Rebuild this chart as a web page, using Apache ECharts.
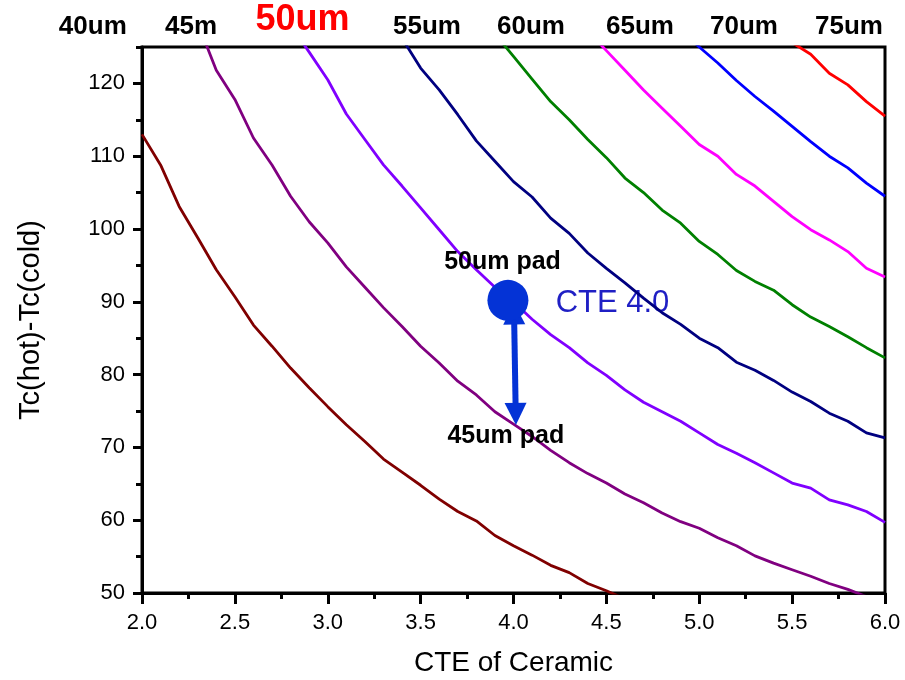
<!DOCTYPE html>
<html>
<head>
<meta charset="utf-8">
<script src="https://cdn.jsdelivr.net/npm/echarts@6/dist/echarts.min.js"></script>
<style>
html, body { margin: 0; padding: 0; background: #fff; }
#chart { width: 905px; height: 680px; }
</style>
</head>
<body>
<div id="chart"></div>
<script>
var FONT = '"Liberation Sans", Arial, sans-serif';

// CTE of ceramic (x), one value every 0.1
var cte = [2.0, 2.1, 2.2, 2.3, 2.4, 2.5, 2.6, 2.7, 2.8, 2.9,
           3.0, 3.1, 3.2, 3.3, 3.4, 3.5, 3.6, 3.7, 3.8, 3.9,
           4.0, 4.1, 4.2, 4.3, 4.4, 4.5, 4.6, 4.7, 4.8, 4.9,
           5.0, 5.1, 5.2, 5.3, 5.4, 5.5, 5.6, 5.7, 5.8, 5.9, 6.0];

// Tc(hot)-Tc(cold) per pad size, aligned with cte
var pad40 = [113.0, 108.8, 103.1, 98.8, 94.4, 90.7, 86.8, 83.9, 80.9, 78.2,
             75.6, 73.1, 70.8, 68.4, 66.6, 64.8, 62.9, 61.2, 59.9, 57.9,
             56.5, 55.2, 53.8, 52.8, 51.3, 50.3, 49.2, null, null, null,
             null, null, null, null, null, null, null, null, null, null, null];
var pad45 = [null, null, null, 128.3, 121.8, 117.8, 112.5, 108.8, 104.5, 101.0,
             98.1, 94.8, 92.0, 89.2, 86.6, 83.9, 81.6, 79.1, 77.2, 74.9,
             73.2, 71.5, 69.6, 67.9, 66.4, 65.1, 63.6, 62.4, 61.0, 59.8,
             58.9, 57.6, 56.5, 55.1, 54.1, 53.2, 52.3, 51.3, 50.5, 49.5, null];
var pad50 = [null, null, null, null, null, null, null, null, 128.0, 124.3,
             120.5, 115.8, 112.3, 108.8, 105.9, 102.9, 99.9, 96.9, 94.4, 92.0,
             90.0, 87.6, 85.5, 83.7, 81.6, 79.9, 77.9, 76.2, 74.9, 73.6,
             72.0, 70.4, 69.2, 67.9, 66.5, 65.1, 64.4, 62.8, 62.1, 61.2, 59.7];
var pad55 = [null, null, null, null, null, null, null, null, null, null,
             null, null, null, null, 126.2, 122.1, 119.1, 115.7, 112.1, 109.3,
             106.5, 104.4, 101.5, 99.4, 96.7, 94.6, 92.6, 90.5, 88.5, 86.9,
             85.0, 83.7, 81.7, 80.6, 79.2, 77.6, 76.3, 74.7, 73.6, 72.0, 71.3];
var pad60 = [null, null, null, null, null, null, null, null, null, null,
             null, null, null, null, null, null, null, null, null, 126.8,
             123.7, 120.6, 117.5, 115.0, 112.3, 109.8, 107.0, 105.0, 102.6, 100.8,
             98.3, 96.5, 94.3, 92.8, 91.6, 89.6, 87.9, 86.6, 85.2, 83.7, 82.3];
var pad65 = [null, null, null, null, null, null, null, null, null, null,
             null, null, null, null, null, null, null, null, null, null,
             null, null, null, null, 127.2, 124.5, 121.8, 119.1, 116.6, 114.1,
             111.6, 110.0, 107.5, 105.9, 103.8, 101.7, 99.9, 98.5, 96.9, 94.6, 93.4];
var pad70 = [null, null, null, null, null, null, null, null, null, null,
             null, null, null, null, null, null, null, null, null, null,
             null, null, null, null, null, null, null, null, null, 127.3,
             125.0, 122.8, 120.4, 118.2, 116.2, 114.1, 112.0, 110.0, 108.4, 106.3, 104.5];
var pad75 = [null, null, null, null, null, null, null, null, null, null,
             null, null, null, null, null, null, null, null, null, null,
             null, null, null, null, null, null, null, null, null, null,
             null, null, null, null, null, 125.6, 124.0, 121.4, 119.8, 117.5, 115.5];

var curves = [pad40, pad45, pad50, pad55, pad60, pad65, pad70, pad75];
var curveNames = ['40um', '45m', '50um', '55um', '60um', '65um', '70um', '75um'];
var curveColors = ['#800000', '#800080', '#8000ff', '#000080', '#008000', '#ff00ff', '#0000ff', '#ff0000'];

// y axis ticks
var yMajor = [50, 60, 70, 80, 90, 100, 110, 120];

// marker: 50um pad at CTE 4.0, arrow down to the 45um curve
var marker = [3.97, 90.2];
var arrowFrom = [4.003, 88.4];
var arrowTo = [4.012, 74.6];

var chart = echarts.init(document.getElementById('chart'));

var series = curves.map(function(ys, k) {
    var pts = [];
    cte.forEach(function(x, i) {
        if (ys[i] != null) pts.push([x, ys[i]]);
    });
    return {
        name: curveNames[k],
        type: 'line',
        data: pts,
        symbol: 'none',
        clip: true,
        z: 3,
        lineStyle: { color: curveColors[k], width: 2.8 },
        itemStyle: { color: curveColors[k] }
    };
});

series.push({
    type: 'lines',
    coordinateSystem: 'cartesian2d',
    data: [{ coords: [arrowFrom, arrowTo] }],
    symbol: ['triangle', 'triangle'],
    symbolSize: 22,
    lineStyle: { color: '#0433d6', width: 6, opacity: 1, curveness: 0 },
    z: 4
});

series.push({
    type: 'scatter',
    data: [marker],
    symbolSize: 41,
    itemStyle: { color: '#0433d6', opacity: 1 },
    z: 5
});

var topLabel = function(text, x, y, size, color) {
    return {
        type: 'text', x: x, y: y, z: 10,
        style: {
            text: text, fill: color, align: 'center', verticalAlign: 'middle',
            font: 'bold ' + size + 'px ' + FONT
        }
    };
};

var axisStroke = { color: '#000', width: 3 };

var option = {
    animation: false,
    backgroundColor: '#fff',
    grid: {
        left: 142, right: 20, top: 47, bottom: 87,
        show: true, borderColor: '#000', borderWidth: 3,
        containLabel: false, outerBoundsMode: 'none'
    },
    xAxis: {
        type: 'value', min: 2, max: 6, interval: 0.5,
        name: 'CTE of Ceramic', nameLocation: 'middle', nameGap: 56,
        nameTextStyle: { color: '#000', fontSize: 28, fontFamily: FONT },
        axisLine: { show: true, lineStyle: axisStroke },
        axisTick: { show: true, inside: false, length: 11, lineStyle: axisStroke },
        minorTick: { show: true, splitNumber: 2, length: 6, lineStyle: axisStroke },
        splitLine: { show: false },
        minorSplitLine: { show: false },
        axisLabel: {
            color: '#000', fontSize: 22, fontFamily: FONT, margin: 19,
            formatter: function(v) { return v.toFixed(1); }
        }
    },
    yAxis: [{
        type: 'value', min: 50, max: 125, interval: 10,
        name: 'Tc(hot)-Tc(cold)', nameLocation: 'middle', nameGap: 97,
        nameTextStyle: { color: '#000', fontSize: 29, fontFamily: FONT },
        axisLine: { show: true, lineStyle: axisStroke },
        axisTick: { show: true, inside: false, length: 9, customValues: yMajor, lineStyle: axisStroke },
        splitLine: { show: false },
        axisLabel: { color: '#000', fontSize: 22, fontFamily: FONT, margin: 17, customValues: yMajor }
    }, {
        type: 'value', min: 50, max: 125, interval: 5, position: 'left',
        axisLine: { show: false },
        axisTick: { show: true, inside: false, length: 6, lineStyle: axisStroke },
        axisLabel: { show: false },
        splitLine: { show: false }
    }],
    graphic: [
        topLabel('40um', 92.8, 26.5, 26, '#000'),
        topLabel('45m', 191, 26.5, 26, '#000'),
        topLabel('50um', 302.5, 20, 36, '#ff0000'),
        topLabel('55um', 427, 26.5, 26, '#000'),
        topLabel('60um', 531, 26.5, 26, '#000'),
        topLabel('65um', 640, 26.5, 26, '#000'),
        topLabel('70um', 744, 26.5, 26, '#000'),
        topLabel('75um', 849, 26.5, 26, '#000'),
        topLabel('50um pad', 502.5, 261.7, 25, '#000'),
        topLabel('45um pad', 505.8, 436, 25, '#000'),
        {
            type: 'text', x: 612.5, y: 303.3,
            style: {
                text: 'CTE 4.0', fill: '#1f1fc4', align: 'center', verticalAlign: 'middle',
                font: '31px ' + FONT
            }
        }
    ],
    series: series
};

chart.setOption(option);

window.addEventListener('resize', function() {
    chart.resize();
});
</script>
</body>
</html>
